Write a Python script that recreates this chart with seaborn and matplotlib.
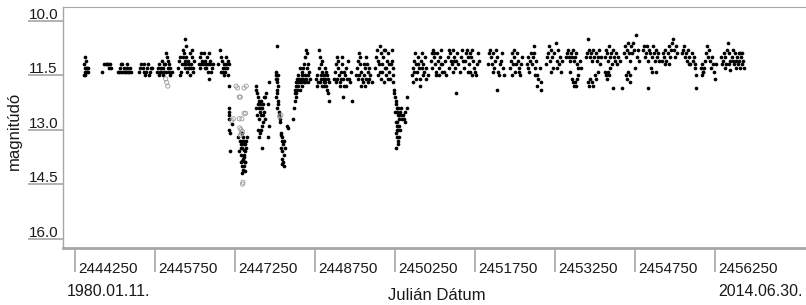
import numpy as np
import pandas as pd
import matplotlib
matplotlib.use("Agg")
import matplotlib.pyplot as plt
import seaborn as sns

# Light curve: (JD - 2440000, magnitude)
JD0 = 2440000

quiet_early = [
    # 1980
    (4420, 11.2), (4430, 11.3), (4445, 11.0), (4450, 11.1), (4455, 11.3), (4470, 11.3),
    (4480, 11.4), (4490, 11.3), (4425, 11.5), (4440, 11.4), (4500, 11.4), (4435, 11.5),
    # 1981
    (4760, 11.4), (4800, 11.2), (4830, 11.2), (4850, 11.2), (4870, 11.2), (4900, 11.2),
    (4920, 11.3), (4880, 11.3),
    # 1982
    (5060, 11.4), (5080, 11.4), (5100, 11.3), (5120, 11.2), (5140, 11.2), (5160, 11.3),
    (5180, 11.4), (5200, 11.4), (5220, 11.3), (5240, 11.4), (5260, 11.4), (5280, 11.3),
    (5300, 11.4), (5150, 11.4), (5110, 11.4), (5230, 11.2),
    # 1983
    (5450, 11.4), (5470, 11.3), (5490, 11.2), (5520, 11.3), (5540, 11.2), (5560, 11.5),
    (5580, 11.4), (5600, 11.3), (5620, 11.2), (5650, 11.4), (5670, 11.3), (5690, 11.3),
    (5630, 11.5), (5540, 11.4),
    # 1984
    (5780, 11.4), (5800, 11.3), (5820, 11.2), (5840, 11.4), (5860, 11.3), (5880, 11.1),
    (5900, 11.3), (5920, 11.4), (5940, 11.2), (5960, 10.9), (5980, 11.0), (6000, 11.3),
    (6020, 11.4), (6040, 11.5), (6060, 11.4), (5830, 11.5), (5900, 11.5), (5950, 11.4),
    (6010, 11.2), (5870, 11.4), (5920, 11.2), (5990, 11.1), (6030, 11.3),
    # 1985
    (6180, 11.3), (6200, 11.1), (6220, 11.0), (6240, 11.4), (6260, 11.2), (6280, 10.8),
    (6300, 10.9), (6313, 10.5), (6330, 10.7), (6340, 11.0), (6360, 11.1), (6380, 11.3),
    (6400, 10.9), (6420, 11.2), (6440, 10.8), (6460, 11.3), (6480, 11.1), (6210, 11.5),
    (6290, 11.2), (6350, 11.4), (6410, 11.5), (6470, 11.4), (6270, 11.0), (6320, 11.3),
    (6390, 11.2), (6450, 11.0), (6310, 11.1), (6370, 11.3), (6430, 11.3), (6330, 11.2),
    # 1986
    (6570, 11.2), (6590, 11.0), (6610, 10.9), (6630, 11.1), (6650, 11.2), (6670, 10.9),
    (6690, 11.1), (6710, 11.3), (6730, 11.0), (6750, 11.2), (6770, 10.9), (6790, 11.1),
    (6810, 11.3), (6830, 11.2), (6763, 11.6), (6600, 11.3), (6680, 11.3), (6740, 11.4),
    (6800, 11.4), (6620, 11.2), (6700, 11.2), (6780, 11.2),
    # 1987
    (6940, 11.2), (6960, 10.8), (6980, 11.0), (7000, 11.1), (7020, 11.3), (7040, 11.2),
    (7060, 11.4), (7080, 11.0), (7100, 11.3), (7120, 11.5), (7130, 11.2), (6990, 11.4),
    (7050, 11.5), (7110, 11.1), (7070, 11.3), (7030, 11.4), (7090, 11.2),
]

fade_1988 = [
    (7130, 11.8), (7130, 12.4), (7135, 12.5), (7140, 12.6), (7135, 12.7), (7145, 13.0),
    (7150, 13.1), (7160, 13.6), (7200, 12.85),
    (7380, 13.1), (7400, 13.2), (7420, 13.3), (7360, 13.4), (7390, 13.5), (7410, 13.4),
    (7430, 13.6), (7370, 13.7), (7400, 13.8), (7420, 13.7), (7440, 13.9), (7380, 14.0),
    (7400, 14.1), (7420, 14.0), (7390, 14.2), (7360, 13.5), (7450, 13.3), (7460, 13.5),
    (7470, 13.2), (7350, 13.3), (7430, 13.9), (7410, 13.55), (7440, 13.4), (7370, 13.9),
    (7430, 14.15), (7300, 13.2), (7320, 13.6), (7390, 13.3), (7410, 13.75), (7380, 13.85),
    # 1989
    (7640, 11.9), (7660, 12.0), (7680, 12.1), (7700, 12.2), (7720, 12.3), (7740, 12.2),
    (7760, 12.4), (7780, 12.3), (7800, 12.5), (7660, 12.6), (7700, 12.7), (7740, 12.6),
    (7780, 12.8), (7820, 12.7), (7680, 13.0), (7720, 13.1), (7700, 13.2), (7740, 13.0),
    (7760, 13.5), (7840, 12.0), (7860, 12.3), (7880, 11.7), (7890, 12.9), (7870, 13.2),
    (7650, 12.4), (7820, 12.1), (7760, 12.9), (7800, 12.1), (7720, 12.5), (7640, 11.8),
    (7680, 12.3), (7740, 12.4), (7780, 12.6), (7700, 12.4),
    # 1990
    (8040, 10.7), (8010, 11.4), (8020, 11.5), (8030, 11.6), (8040, 11.7), (8050, 11.8),
    (8030, 11.9), (8040, 12.0), (8020, 12.1), (8050, 12.2), (8060, 12.3), (8040, 12.4),
    (8070, 12.5), (8080, 12.6), (8090, 12.7), (8100, 12.8), (8230, 12.9), (8250, 12.95),
    (8330, 12.7), (8120, 13.1), (8140, 13.2), (8130, 13.3), (8150, 13.4), (8120, 13.5),
    (8140, 13.6), (8160, 13.7), (8130, 13.8), (8150, 13.9), (8170, 14.0), (8140, 13.95),
    (8110, 13.15), (8180, 13.5), (8160, 13.3), (8010, 11.6), (8060, 11.5),
]

recovery = [
    # 1991
    (8360, 12.4), (8370, 12.2), (8380, 12.0), (8380, 11.9), (8390, 11.8), (8400, 11.7),
    (8420, 11.6), (8440, 11.8), (8460, 11.7), (8480, 11.6), (8500, 11.4), (8520, 11.3),
    (8540, 11.2), (8560, 11.0), (8580, 10.8), (8600, 10.9), (8620, 11.2), (8640, 11.4),
    (8500, 11.8), (8540, 11.7), (8580, 11.6), (8620, 11.7), (8440, 11.5), (8470, 11.3),
    (8510, 11.5), (8560, 11.5), (8600, 11.3), (8400, 12.0), (8420, 11.9), (8460, 11.9),
    (8520, 11.6), (8650, 11.6), (8390, 12.1), (8430, 11.7), (8490, 11.7), (8570, 11.7),
    (8610, 11.5), (8450, 11.6),
    # 1992
    (8770, 11.6), (8790, 11.5), (8800, 11.7), (8820, 10.8), (8840, 11.0), (8860, 11.2),
    (8880, 11.4), (8900, 11.6), (8920, 11.5), (8940, 11.7), (8960, 11.8), (8980, 11.9),
    (9000, 12.0), (9020, 12.2), (8830, 11.3), (8870, 11.5), (8910, 11.8), (8950, 11.4),
    (8990, 11.6), (9010, 11.7), (8850, 11.7), (8780, 11.8), (8890, 11.1), (8930, 11.3),
    (8970, 11.5), (8860, 11.6), (8920, 11.7), (8880, 11.8), (8940, 11.6),
    # 1993
    (9100, 11.6), (9120, 11.4), (9140, 11.2), (9160, 11.0), (9180, 11.3), (9200, 11.5),
    (9220, 11.7), (9240, 11.4), (9260, 11.2), (9280, 11.6), (9300, 11.8), (9320, 11.5),
    (9340, 11.3), (9360, 11.1), (9380, 11.6), (9400, 11.7), (9420, 11.4), (9275, 12.1),
    (9440, 12.2), (9150, 11.7), (9210, 11.8), (9330, 11.8), (9190, 11.1), (9250, 11.0),
    (9170, 11.6), (9230, 11.6), (9290, 11.4), (9350, 11.6),
    # 1994
    (9510, 11.5), (9530, 11.3), (9550, 11.1), (9570, 10.9), (9590, 11.2), (9610, 11.4),
    (9630, 11.6), (9650, 11.7), (9670, 11.5), (9690, 11.3), (9710, 11.0), (9730, 11.2),
    (9750, 11.4), (9770, 11.6), (9790, 11.5), (9810, 11.7), (9560, 11.6), (9620, 11.8),
    (9680, 11.8), (9740, 11.7), (9600, 11.0), (9660, 11.2), (9580, 11.5), (9700, 11.6),
    (9760, 11.3),
    # 1995
    (9880, 11.3), (9900, 11.0), (9920, 10.8), (9940, 11.1), (9960, 10.7), (9980, 10.9),
    (10000, 11.2), (10020, 11.0), (10040, 10.8), (10060, 11.3), (10080, 11.5), (10100, 11.1),
    (10120, 10.9), (10140, 11.4), (10160, 11.6), (10180, 11.2), (9930, 11.5), (9990, 11.6),
    (10050, 11.7), (10110, 11.6), (9960, 11.4), (10070, 10.8), (10010, 11.4), (10090, 11.3),
    (10130, 11.2), (9950, 11.2),
]

fade_1996 = [
    (10190, 10.8), (10200, 11.1), (10210, 11.3), (10215, 11.5), (10220, 11.7), (10230, 11.9),
    (10240, 12.0), (10250, 12.1), (10260, 12.2), (10270, 12.3), (10280, 12.4), (10290, 12.5),
    (10300, 12.4), (10320, 12.6), (10340, 12.5), (10360, 12.6), (10380, 12.7), (10400, 12.6),
    (10260, 12.8), (10280, 12.9), (10300, 13.0), (10320, 12.9), (10270, 13.1), (10290, 13.2),
    (10310, 13.3), (10280, 13.0), (10300, 13.4), (10269, 13.5), (10320, 13.2), (10360, 12.4),
    (10420, 12.7), (10440, 12.5), (10470, 12.1), (10480, 12.4), (10440, 12.8), (10250, 12.5),
    (10340, 13.0), (10330, 12.7), (10310, 12.6), (10290, 12.8),
]

quiet_late = [
    # 1997
    (10560, 11.5), (10580, 11.3), (10600, 11.1), (10620, 10.9), (10640, 11.2), (10660, 11.4),
    (10680, 11.0), (10700, 11.3), (10720, 11.6), (10740, 11.1), (10760, 10.9), (10780, 11.2),
    (10800, 11.4), (10820, 11.0), (10840, 11.3), (10860, 11.5), (10590, 11.7), (10650, 11.6),
    (10710, 11.8), (10610, 11.4), (10770, 11.5), (10830, 11.6), (10690, 11.2), (10750, 11.3),
    # 1998
    (10920, 11.1), (10940, 10.9), (10960, 10.8), (10980, 11.0), (11000, 11.2), (11020, 11.4),
    (11040, 10.9), (11060, 11.1), (11080, 11.3), (11100, 11.0), (11120, 10.8), (11140, 11.2),
    (11160, 11.4), (11180, 11.1), (11200, 11.5), (10950, 11.3), (11010, 11.5), (11070, 11.5),
    (11130, 11.4), (10990, 10.9), (11110, 11.2),
    # 1999
    (11240, 11.0), (11260, 10.8), (11280, 10.9), (11300, 11.1), (11320, 11.2), (11340, 10.8),
    (11360, 11.0), (11380, 11.3), (11400, 11.1), (11420, 10.9), (11440, 11.2), (11460, 11.4),
    (11480, 11.0), (11500, 10.8), (11520, 11.1), (11540, 11.3), (11394, 12.0), (11270, 11.3),
    (11330, 11.4), (11350, 11.1),
    # 2000
    (11560, 11.1), (11580, 10.9), (11600, 10.8), (11620, 11.0), (11640, 11.2), (11660, 11.4),
    (11680, 11.0), (11700, 10.8), (11720, 11.1), (11740, 11.3), (11760, 11.5), (11780, 11.2),
    (11800, 10.9), (11820, 11.1), (11610, 11.4), (11690, 11.5), (11750, 11.4), (11650, 10.9),
    # 2001
    (11990, 11.2), (12010, 10.9), (12030, 10.8), (12050, 11.0), (12070, 11.2), (12090, 10.9),
    (12110, 11.3), (12130, 11.1), (12150, 10.8), (12170, 11.0), (12190, 11.4), (12210, 11.2),
    (12230, 11.1), (12250, 10.9), (12270, 11.3), (12290, 11.5), (12160, 11.9), (12080, 11.4),
    (12200, 11.5),
    # 2002
    (12400, 11.3), (12420, 11.1), (12440, 10.9), (12460, 11.2), (12480, 11.0), (12500, 11.4),
    (12520, 11.2), (12540, 10.9), (12560, 11.1), (12580, 11.3), (12600, 11.5), (12620, 11.2),
    (12640, 11.0), (12450, 11.5), (12570, 11.4), (12490, 10.8),
    # 2003
    (12720, 11.2), (12740, 11.0), (12760, 11.4), (12780, 11.1), (12800, 10.9), (12820, 11.2),
    (12840, 11.0), (12860, 10.7), (12880, 11.3), (12900, 11.1), (12920, 11.5), (12940, 11.6),
    (12960, 11.3), (12980, 11.7), (12990, 11.9), (12870, 11.5), (12910, 11.8), (12750, 11.3),
    (12850, 10.9),
    # 2004
    (13080, 11.2), (13100, 11.0), (13120, 10.9), (13140, 10.7), (13160, 11.1), (13180, 10.8),
    (13200, 11.0), (13220, 11.3), (13240, 10.9), (13260, 10.6), (13280, 11.1), (13300, 10.8),
    (13320, 11.2), (13340, 11.0), (13360, 11.4), (13380, 11.1), (13170, 11.4), (13290, 11.3),
    # 2005
    (13450, 11.0), (13470, 10.9), (13490, 10.8), (13510, 11.0), (13530, 11.1), (13550, 10.9),
    (13570, 11.0), (13590, 10.8), (13610, 11.1), (13630, 11.0), (13650, 10.9), (13670, 11.2),
    (13690, 11.3), (13710, 11.1), (13540, 11.4), (13560, 11.6), (13580, 11.7), (13600, 11.8),
    (13620, 11.7), (13640, 11.8), (13660, 11.6), (13680, 11.5), (13740, 11.3),
    # 2006
    (13830, 11.0), (13850, 10.9), (13870, 10.5), (13890, 10.8), (13910, 11.0), (13930, 10.9),
    (13950, 11.1), (13970, 10.8), (13990, 11.0), (14010, 10.9), (14030, 11.1), (14050, 11.0),
    (14070, 10.8), (14090, 11.2), (14110, 11.0), (13860, 11.7), (13880, 11.8), (13900, 11.6),
    (13940, 11.7), (13960, 11.8), (14000, 11.5), (14020, 11.6), (14060, 11.4),
    # 2007
    (14180, 11.0), (14200, 10.8), (14220, 10.9), (14240, 11.1), (14260, 10.7), (14280, 11.0),
    (14300, 10.9), (14320, 11.2), (14340, 10.8), (14360, 11.0), (14380, 11.1), (14400, 10.9),
    (14420, 11.2), (14440, 11.0), (14460, 11.1), (14190, 11.4), (14210, 11.5), (14230, 11.6),
    (14250, 11.4), (14270, 11.5), (14338, 11.85), (14506, 11.85), (14290, 11.3),
    # 2008
    (14540, 10.9), (14560, 10.7), (14580, 11.0), (14600, 10.8), (14620, 10.6), (14640, 10.9),
    (14660, 11.1), (14680, 10.7), (14700, 10.9), (14720, 10.6), (14740, 10.8), (14770, 10.4),
    (14790, 11.0), (14810, 10.8), (14830, 11.1), (14580, 11.5), (14600, 11.6), (14620, 11.4),
    (14660, 11.5), (14656, 11.7), (14750, 11.3),
    # 2009
    (14900, 10.8), (14920, 10.7), (14940, 11.0), (14960, 10.9), (14980, 10.7), (15000, 11.1),
    (15020, 10.8), (15040, 10.9), (15060, 11.0), (15080, 10.7), (15100, 10.9), (15120, 11.1),
    (15140, 10.8), (15160, 11.0), (15180, 10.9), (15200, 11.1), (15050, 11.3), (15070, 11.4),
    (14994, 11.85), (15140, 11.4),
    # 2010
    (15260, 11.1), (15280, 10.9), (15300, 11.0), (15320, 10.8), (15340, 11.1), (15360, 10.9),
    (15380, 10.7), (15400, 11.0), (15420, 10.8), (15440, 10.6), (15463, 10.5), (15480, 10.8),
    (15500, 11.0), (15520, 10.7), (15540, 10.9), (15310, 11.2), (15390, 11.2),
    # 2011
    (15630, 10.9), (15650, 10.8), (15670, 10.7), (15690, 11.0), (15710, 10.9), (15730, 11.1),
    (15750, 10.8), (15770, 11.0), (15790, 11.2), (15810, 10.9), (15830, 11.1), (15850, 11.0),
    (15870, 11.2), (15880, 11.3), (15890, 11.5), (15900, 11.85), (15760, 11.2),
    # 2012
    (15980, 11.3), (16000, 11.2), (16020, 11.4), (16040, 11.3), (16060, 11.1), (16080, 10.9),
    (16100, 10.7), (16120, 11.0), (16140, 10.8), (16160, 11.1), (16180, 11.3), (16200, 11.0),
    (16220, 11.2), (16240, 11.4), (16260, 11.2), (16250, 11.6), (16010, 11.5), (16030, 11.4),
    # 2013-2014
    (16360, 11.0), (16380, 11.2), (16400, 11.1), (16420, 10.9), (16440, 11.0), (16460, 11.2),
    (16480, 10.8), (16500, 10.6), (16520, 10.9), (16540, 11.1), (16560, 11.0), (16580, 10.8),
    (16600, 11.2), (16620, 10.9), (16640, 11.1), (16660, 11.0), (16680, 11.2), (16700, 11.1),
    (16720, 10.9), (16740, 11.0), (16760, 11.2), (16780, 11.1), (16800, 11.3), (16440, 11.3),
    (16520, 11.2), (16580, 11.1), (16640, 11.3), (16700, 10.9), (16760, 10.9), (16540, 11.35),
    (16720, 11.3),
]

# hollow grey symbols
grey_points = [
    (5950, 11.6), (5970, 11.7), (5990, 11.8),
    (7270, 11.8), (7300, 11.85), (7330, 12.1), (7350, 12.1), (7420, 11.85), (7460, 11.8),
    (7190, 12.75), (7220, 12.7), (7330, 12.7), (7380, 12.7), (7420, 12.55), (7450, 12.55),
    (7340, 12.95), (7360, 13.0), (7390, 13.05), (7370, 13.1), (7350, 13.15),
    (7390, 14.5), (7400, 14.45), (8090, 12.65), (8110, 12.6),
]

x_ticks = [2444250, 2445750, 2447250, 2448750, 2450250, 2451750, 2453250, 2454750, 2456250]
y_ticks = [10.0, 11.5, 13.0, 14.5, 16.0]
start_label = "1980.01.11."
end_label = "2014.06.30."

black = pd.DataFrame(quiet_early + fade_1988 + recovery + fade_1996 + quiet_late,
                     columns=["jd", "mag"])
black["jd"] += JD0
grey = pd.DataFrame(grey_points, columns=["jd", "mag"])
grey["jd"] += JD0

# ── style
sns.set_style("white")
plt.rcParams["font.family"] = ["Liberation Sans", "DejaVu Sans"]
axis_grey = "#a6a6a6"
text_col = "#1a1a1a"

fig = plt.figure(figsize=(8.06, 3.05), dpi=100)
ax = fig.add_axes([63 / 806, 1 - 248 / 305, 1 - 63 / 806, (248 - 7) / 305])

sns.scatterplot(data=black, x="jd", y="mag", ax=ax, s=7, color="black",
                linewidth=0, marker="o", legend=False)
sns.scatterplot(data=grey, x="jd", y="mag", ax=ax, s=9, marker="o",
                facecolor="none", edgecolor="#9a9a9a", linewidth=0.6, legend=False)

ax.set_xlim(2444025, 2457956)
ax.set_ylim(16.26, 9.62)
ax.set_xlabel("")
ax.set_ylabel("")

for side in ["left", "top", "bottom"]:
    ax.spines[side].set_color(axis_grey)
ax.spines["left"].set_linewidth(1.0)
ax.spines["top"].set_linewidth(0.8)
ax.spines["bottom"].set_linewidth(2.0)
ax.spines["right"].set_visible(False)

ax.set_xticks(x_ticks)
ax.set_yticks(y_ticks)
ax.tick_params(axis="x", direction="out", length=17, width=1.2, color=axis_grey,
               labelbottom=False, bottom=True)
ax.tick_params(axis="y", direction="out", length=25, width=1.2, color=axis_grey,
               labelleft=False, left=True)

# SPSS style tick labels: beside the x tick lines, on top of the y tick lines
for v in x_ticks:
    ax.annotate(str(v), xy=(v, 0), xycoords=("data", "axes fraction"),
                xytext=(3, -25), textcoords="offset pixels",
                ha="left", va="baseline", fontsize=11, color=text_col)
for v in y_ticks:
    ax.annotate(f"{v:.1f}", xy=(0, v), xycoords=("axes fraction", "data"),
                xytext=(-34, 2), textcoords="offset pixels",
                ha="left", va="baseline", fontsize=11, color=text_col)

fig.text(67 / 806, 1 - 296 / 305, start_label, ha="left", va="baseline",
         fontsize=11.5, color=text_col)
fig.text(803 / 806, 1 - 296 / 305, end_label, ha="right", va="baseline",
         fontsize=11.5, color=text_col)
fig.text(437 / 806, 1 - 300 / 305, "Julián Dátum", ha="center", va="baseline",
         fontsize=12, color=text_col)
fig.text(14 / 806, 1 - 131 / 305, "magnitúdó", rotation=90, ha="center",
         va="center", fontsize=12, color=text_col)

fig.savefig("out.png", dpi=100)
